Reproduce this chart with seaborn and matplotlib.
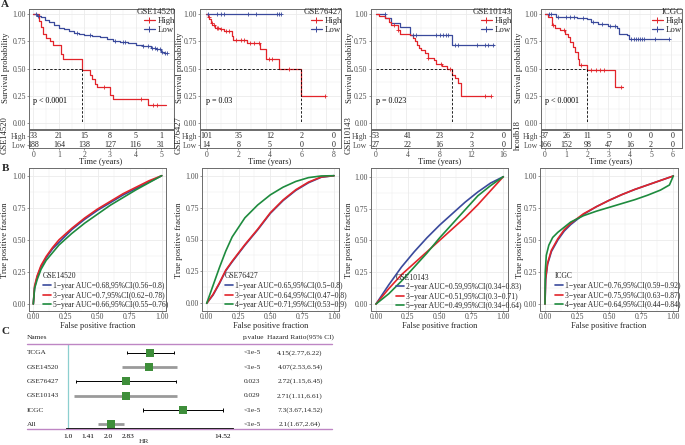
import matplotlib
matplotlib.use("Agg")
import numpy as np
import pandas as pd
import seaborn as sns
import matplotlib.pyplot as plt
from matplotlib.lines import Line2D

# ------------------------------------------------------------------ DATA
# Panel A : Kaplan-Meier step points
km1_name = "GSE14520"
km1_high_t = [0, 0.24, 0.30, 0.38, 0.50, 0.65, 0.78, 1.10, 1.18, 1.90, 2.20, 2.30, 2.40, 2.50, 3.00, 3.10, 4.50, 5.20]
km1_high_s = [1.00, 0.94, 0.88, 0.82, 0.78, 0.75, 0.72, 0.63, 0.59, 0.49, 0.44, 0.40, 0.36, 0.33, 0.26, 0.22, 0.17, 0.17]
km1_high_c = [2.75, 4.20, 4.70, 4.85]
km1_low_t = [0, 0.15, 0.30, 0.45, 0.60, 0.80, 1.00, 1.20, 1.40, 1.60, 1.80, 2.00, 2.30, 2.60, 2.90, 3.10,
             3.40, 3.70, 4.00, 4.30, 4.60, 4.80, 5.00, 5.10, 5.25]
km1_low_s = [1.00, 0.985, 0.97, 0.945, 0.925, 0.90, 0.875, 0.86, 0.845, 0.83, 0.815, 0.805, 0.795, 0.785, 0.77,
             0.755, 0.745, 0.735, 0.715, 0.705, 0.69, 0.675, 0.655, 0.645, 0.64]
km1_low_c = [0.1, 0.2, 1.7, 2.2, 3.2, 3.5, 3.6, 4.3, 4.5, 4.65, 4.75, 4.85, 4.95, 5.05, 5.15, 5.22]
km1_risk_t = [0, 1, 2, 3, 4, 5]
km1_risk_high = [33, 21, 15, 8, 5, 1]
km1_risk_low = [188, 164, 138, 127, 116, 31]
km1_p = "p < 0.0001"
km1_strata = "GSE14520"

km2_name = "GSE76427"
km2_high_t = [0, 0.10, 0.20, 0.30, 0.40, 0.60, 0.90, 1.20, 1.70, 1.80, 2.70, 3.60, 4.00, 4.85, 6.30, 7.90]
km2_high_s = [1.00, 0.97, 0.95, 0.92, 0.90, 0.87, 0.86, 0.84, 0.80, 0.76, 0.73, 0.68, 0.59, 0.50, 0.25, 0.25]
km2_high_c = [0.15, 0.35, 0.5, 0.7, 0.8, 1.0, 1.3, 1.5, 2.0, 2.3, 2.5, 2.9, 3.2, 3.5, 4.2, 4.4, 5.5, 7.9]
km2_low_t = [0, 5.0]
km2_low_s = [1.0, 1.0]
km2_low_c = [0.1, 0.7, 1.0, 1.2, 2.8, 3.3, 4.7, 4.85, 5.0]
km2_risk_t = [0, 2, 4, 6, 8]
km2_risk_high = [101, 35, 12, 2, 0]
km2_risk_low = [14, 8, 5, 0, 0]
km2_p = "p = 0.03"
km2_strata = "GSE76427"

km3_name = "GSE10143"
km3_high_t = [0, 0.5, 1.3, 1.8, 2.1, 3.0, 3.2, 4.5, 4.9, 5.2, 5.5, 5.8, 6.0, 6.5, 6.9, 7.8, 8.0, 8.8, 9.5,
              10.2, 10.6, 11.0, 11.4, 15.3]
km3_high_s = [1.0, 0.98, 0.96, 0.93, 0.90, 0.85, 0.82, 0.81, 0.78, 0.75, 0.72, 0.69, 0.67, 0.64, 0.60, 0.58,
              0.54, 0.52, 0.50, 0.44, 0.41, 0.37, 0.25, 0.25]
km3_high_c = [2.5, 3.0, 7.0, 8.7, 9.9, 14.5, 15.3]
km3_low_t = [0, 1.3, 2.0, 3.2, 4.5, 10.2, 15.7]
km3_low_s = [1.0, 0.96, 0.92, 0.88, 0.81, 0.72, 0.72]
km3_low_c = [1.2, 5.0, 5.3, 8.0, 8.5, 9.0, 9.3, 9.6, 10.6, 11.0, 13.5, 14.5, 15.0, 15.6]
km3_risk_t = [0, 4, 8, 12, 16]
km3_risk_high = [53, 41, 23, 2, 0]
km3_risk_low = [27, 22, 16, 3, 0]
km3_p = "p = 0.023"
km3_strata = "GSE10143"

km4_name = "ICGC"
km4_high_t = [0, 0.16, 0.31, 0.47, 0.71, 0.94, 1.10, 1.18, 1.34, 1.42, 1.57, 1.60, 1.97, 3.30, 3.70]
km4_high_s = [1.00, 0.97, 0.90, 0.87, 0.85, 0.82, 0.79, 0.74, 0.70, 0.65, 0.59, 0.53, 0.49, 0.33, 0.33]
km4_high_c = [0.4, 0.9, 1.7, 2.2, 2.4, 2.6, 2.8, 3.6]
km4_low_t = [0, 0.5, 1.5, 2.0, 2.2, 2.5, 3.0, 3.4, 3.5, 3.9, 4.0, 5.9]
km4_low_s = [1.00, 0.97, 0.96, 0.95, 0.93, 0.91, 0.89, 0.87, 0.82, 0.81, 0.77, 0.77]
km4_low_c = [0.2, 0.3, 0.6, 1.0, 1.2, 1.4, 1.8, 2.3, 2.7, 3.1, 3.3, 4.1, 4.2, 4.3, 4.4, 4.5, 4.6, 4.7, 5.2, 5.9]
km4_risk_t = [0, 1, 2, 3, 4, 5, 6]
km4_risk_high = [37, 26, 11, 5, 0, 0, 0]
km4_risk_low = [166, 152, 98, 47, 16, 2, 0]
km4_p = "p < 0.0001"
km4_strata = "hcodb18"

# Panel B : time-dependent ROC curves
roc1_name = "GSE14520"
roc1_fpr = [0, 0.01, 0.03, 0.06, 0.10, 0.15, 0.20, 0.30, 0.40, 0.50, 0.60, 0.70, 0.80, 0.90, 1.00]
roc1_tpr_a = [0, 0.13, 0.21, 0.29, 0.36, 0.43, 0.48, 0.58, 0.66, 0.73, 0.79, 0.85, 0.90, 0.95, 1.00]
roc1_tpr_b = [0, 0.14, 0.22, 0.30, 0.37, 0.44, 0.50, 0.59, 0.67, 0.74, 0.80, 0.86, 0.91, 0.96, 1.00]
roc1_tpr_c = [0, 0.12, 0.19, 0.27, 0.34, 0.40, 0.46, 0.55, 0.63, 0.70, 0.77, 0.83, 0.89, 0.945, 1.00]
roc1_labels = ["1\u2212year AUC=0.68,95%CI(0.56\u22120.8)",
               "3\u2212year AUC=0.7,95%CI(0.62\u22120.78)",
               "5\u2212year AUC=0.66,95%CI(0.55\u22120.76)"]

roc2_name = "GSE76427"
roc2_fpr = [0, 0.05, 0.10, 0.15, 0.20, 0.30, 0.40, 0.50, 0.60, 0.70, 0.80, 0.90, 1.00]
roc2_tpr_a = [0, 0.065, 0.155, 0.255, 0.325, 0.455, 0.575, 0.705, 0.805, 0.885, 0.945, 0.988, 1.00]
roc2_tpr_b = [0, 0.07, 0.16, 0.26, 0.33, 0.46, 0.58, 0.71, 0.81, 0.89, 0.95, 0.99, 1.00]
roc2_tpr_c = [0, 0.14, 0.28, 0.41, 0.52, 0.67, 0.77, 0.85, 0.91, 0.955, 0.985, 0.998, 1.00]
roc2_labels = ["1\u2212year AUC=0.65,95%CI(0.5\u22120.8)",
               "3\u2212year AUC=0.64,95%CI(0.47\u22120.8)",
               "4\u2212year AUC=0.71,95%CI(0.53\u22120.9)"]

roc3_name = "GSE10143"
roc3_fpr = [0, 0.10, 0.20, 0.30, 0.40, 0.50, 0.60, 0.70, 0.80, 0.90, 1.00]
roc3_tpr_a = [0, 0.15, 0.29, 0.41, 0.52, 0.62, 0.71, 0.80, 0.88, 0.95, 1.00]
roc3_tpr_b = [0, 0.12, 0.23, 0.32, 0.41, 0.50, 0.59, 0.68, 0.78, 0.89, 1.00]
roc3_tpr_c = [0, 0.08, 0.18, 0.29, 0.40, 0.52, 0.63, 0.74, 0.85, 0.93, 1.00]
roc3_labels = ["2\u2212year AUC=0.59,95%CI(0.34\u22120.83)",
               "3\u2212year AUC=0.51,95%CI(0.3\u22120.71)",
               "5\u2212year AUC=0.49,95%CI(0.34\u22120.64)"]

roc4_name = "ICGC"
roc4_fpr_ab = [0, 0.005, 0.02, 0.05, 0.10, 0.15, 0.20, 0.30, 0.40, 0.50, 0.60, 0.70, 0.80, 0.90, 1.00]
roc4_tpr_a = [0, 0.19, 0.31, 0.41, 0.50, 0.57, 0.62, 0.70, 0.76, 0.81, 0.855, 0.895, 0.93, 0.965, 1.00]
roc4_tpr_b = [0, 0.20, 0.32, 0.42, 0.51, 0.58, 0.63, 0.705, 0.76, 0.81, 0.855, 0.895, 0.93, 0.965, 1.00]
roc4_fpr_c = [0, 0.002, 0.01, 0.03, 0.06, 0.10, 0.15, 0.20, 0.30, 0.40, 0.50, 0.60, 0.70, 0.80, 0.90, 0.97, 1.00]
roc4_tpr_c = [0, 0.25, 0.38, 0.46, 0.52, 0.56, 0.60, 0.64, 0.69, 0.725, 0.755, 0.785, 0.815, 0.85, 0.89, 0.93, 1.00]
roc4_labels = ["1\u2212year AUC=0.76,95%CI(0.59\u22120.92)",
               "3\u2212year AUC=0.75,95%CI(0.63\u22120.87)",
               "4\u2212year AUC=0.64,95%CI(0.44\u22120.84)"]

# Panel C : forest plot
fp_names = ["TCGA", "GSE14520", "GSE76427", "GSE10143", "ICGC", "All"]
fp_hr = [4.15, 4.07, 2.72, 2.71, 7.3, 2.1]
fp_lo = [2.77, 2.53, 1.15, 1.11, 3.67, 1.67]
fp_hi = [6.22, 6.54, 6.45, 6.61, 14.52, 2.64]
fp_p = ["<1e-5", "<1e-5", "0.023", "0.029", "<1e-5", "<1e-5"]
fp_ticks = [1.0, 1.41, 2.0, 2.83, 14.52]
fp_ticklabels = ["1.0", "1.41", "2.0", "2.83", "14.52"]

# ------------------------------------------------------------------ STYLE
sns.set_theme(style="white")
plt.rcParams["font.family"] = ["Liberation Serif", "DejaVu Serif"]

RED = "#E2242A"
BLUE = "#3A4A9C"
GREEN = "#1E8B3E"
GRID = "#EBEBEB"
BORDER = "#6B6B6B"
TICKC = "#4D4D4D"
PURPLE = "#BE86C4"
TEAL = "#8CCFCF"

W, H = 685, 445
fig = plt.figure(figsize=(W / 100, H / 100), dpi=100)


def add_ax(l, t, r, b):
    return fig.add_axes([l / W, 1 - b / H, (r - l) / W, (b - t) / H])


def ftext(x, y, s, **kw):
    fig.text(x / W, 1 - y / H, s, **kw)


def lim_px(a, b, p0, p1, v0, v1):
    k = (v1 - v0) / (p1 - p0)
    return v0 + (a - p0) * k, v0 + (b - p0) * k


def style(ax, xt, yt, xm, ym, grid=True, xpad=0.8):
    ax.set_xticks(xt)
    ax.set_yticks(yt)
    ax.set_xticks(xm, minor=True)
    ax.set_yticks(ym, minor=True)
    if grid:
        ax.grid(True, which="major", color=GRID, lw=0.6)
        ax.grid(True, which="minor", color=GRID, lw=0.35)
    ax.set_axisbelow(True)
    for sp in ax.spines.values():
        sp.set_visible(True)
        sp.set_color(BORDER)
        sp.set_linewidth(0.7)
    ax.tick_params(which="major", bottom=True, left=True, length=1.5, width=0.5,
                   color=BORDER, labelsize=5.6, labelcolor=TICKC, pad=0.8)
    ax.tick_params(axis="x", which="major", pad=xpad)
    ax.tick_params(which="minor", length=0)
    ax.set_xlabel("")
    ax.set_ylabel("")


def step_at(t, s, c):
    idx = np.searchsorted(np.asarray(t), c, side="right") - 1
    return np.asarray(s)[idx]


# ------------------------------------------------------------------ PANEL A
km_specs = [
    (km1_name, km1_high_t, km1_high_s, km1_high_c, km1_low_t, km1_low_s, km1_low_c,
     km1_risk_t, km1_risk_high, km1_risk_low, km1_p, km1_strata, (29, 174, 33.3, 25.55), 6, 5),
    (km2_name, km2_high_t, km2_high_s, km2_high_c, km2_low_t, km2_low_s, km2_low_c,
     km2_risk_t, km2_risk_high, km2_risk_low, km2_p, km2_strata, (200, 341, 206.7, 15.83), 180, 178.3),
    (km3_name, km3_high_t, km3_high_s, km3_high_c, km3_low_t, km3_low_s, km3_low_c,
     km3_risk_t, km3_risk_high, km3_risk_low, km3_p, km3_strata, (370.7, 511, 376, 7.96), 349.5, 348.3),
    (km4_name, km4_high_t, km4_high_s, km4_high_c, km4_low_t, km4_low_s, km4_low_c,
     km4_risk_t, km4_risk_high, km4_risk_low, km4_p, km4_strata, (541, 682, 545, 21.22), 519, 518),
]

for (name, ht, hs, hc, lt, ls, lc, rt, rh, rl, ptxt, strata, px, ylx, rlx) in km_specs:
    l, r, x0, ppu = px
    xlim = ((l - x0) / ppu, (r - x0) / ppu)
    main = add_ax(l, 8.5, r, 128.5)
    for t, s, c, col in [(lt, ls, lc, BLUE), (ht, hs, hc, RED)]:
        df = pd.DataFrame({"time": t, "surv": s})
        sns.lineplot(data=df, x="time", y="surv", drawstyle="steps-post", color=col, lw=0.9,
                     estimator=None, sort=False, ax=main)
        cdf = pd.DataFrame({"time": c, "surv": step_at(t, s, c)})
        sns.scatterplot(data=cdf, x="time", y="surv", marker="+", color=col, s=10,
                        linewidth=0.6, ax=main, zorder=3)
    hs_arr = np.asarray(hs)
    med = np.asarray(ht)[np.argmax(hs_arr < 0.5)]
    main.plot([0, med], [0.5, 0.5], ls=(0, (3, 2)), color="black", lw=0.6)
    main.plot([med, med], [0.5, 0], ls=(0, (3, 2)), color="black", lw=0.6)
    main.text(0.0, 0.2, ptxt, fontsize=5.8, ha="left", va="center", color="black")
    main.set_xlim(*xlim)
    main.set_ylim(-0.05, 1.05)
    step = rt[1] - rt[0]
    style(main, rt, [0, 0.25, 0.5, 0.75, 1.0],
          [v + step / 2 for v in rt], [0.125, 0.375, 0.625, 0.875])
    main.set_xticklabels([])
    main.set_yticklabels(["0.00", "0.25", "0.50", "0.75", "1.00"])
    handles = [Line2D([], [], color=RED, marker="+", lw=0.9, ms=4, mew=0.7),
               Line2D([], [], color=BLUE, marker="+", lw=0.9, ms=4, mew=0.7)]
    main.legend(handles, ["High", "Low"], title=name, loc="upper right",
                bbox_to_anchor=((r + 1) / W, 1 - 8.5 / H), bbox_transform=fig.transFigure,
                frameon=False, fontsize=6.3, title_fontsize=6.3, handlelength=1.3,
                handletextpad=0.3, labelspacing=0.05, borderpad=0, borderaxespad=0,
                alignment="right")
    ftext(ylx, 68, "Survival probability", rotation=90, ha="center", va="center", fontsize=6.2)

    risk = add_ax(l, 130, r, 148)
    risk.set_xlim(*xlim)
    risk.set_ylim(1.29, -0.645)
    style(risk, rt, [0, 1], [], [], grid=False)
    risk.set_yticklabels(["High", "Low"])
    risk.set_xticklabels([str(v) for v in rt])
    for tv, a, b in zip(rt, rh, rl):
        risk.text(tv, 0, str(a), ha="center", va="center", fontsize=5.8)
        risk.text(tv, 1, str(b), ha="center", va="center", fontsize=5.8)
    ftext((l + r) / 2 - 1, 162.5, "Time (years)", ha="center", va="center", fontsize=6.1)
    ftext(rlx, 135, strata, rotation=90, ha="center", va="center", fontsize=6.2)

# ------------------------------------------------------------------ PANEL B
roc_specs = [
    (roc1_name, [(roc1_fpr, roc1_tpr_a, BLUE), (roc1_fpr, roc1_tpr_b, RED), (roc1_fpr, roc1_tpr_c, GREEN)],
     roc1_labels, (29, 166, 33.3, 161.7, 304, 175.7), 5, (43, 272.5)),
    (roc2_name, [(roc2_fpr, roc2_tpr_a, BLUE), (roc2_fpr, roc2_tpr_b, RED), (roc2_fpr, roc2_tpr_c, GREEN)],
     roc2_labels, (202, 338.5, 206.7, 334, 303.3, 175.7), 179.3, (225, 272.5)),
    (roc3_name, [(roc3_fpr, roc3_tpr_a, BLUE), (roc3_fpr, roc3_tpr_b, RED), (roc3_fpr, roc3_tpr_c, GREEN)],
     roc3_labels, (371, 508, 376, 503.3, 304, 176.7), 349.3, (396, 273.5)),
    (roc4_name, [(roc4_fpr_ab, roc4_tpr_a, BLUE), (roc4_fpr_ab, roc4_tpr_b, RED), (roc4_fpr_c, roc4_tpr_c, GREEN)],
     roc4_labels, (540, 678, 545, 673.3, 304, 176), 520, (555, 272.5)),
]

for name, curves, labels, px, ylx, legpos in roc_specs:
    l, r, x0, x1, y0, y1 = px
    ax = add_ax(l, 168, r, 310.5)
    for fpr, tpr, col in curves:
        sns.lineplot(x=fpr, y=tpr, color=col, lw=1.2, estimator=None, sort=False, ax=ax)
    ax.set_xlim(*lim_px(l, r, x0, x1, 0, 1))
    ax.set_ylim(*lim_px(310.5, 168, y0, y1, 0, 1))
    ticks = [0, 0.25, 0.5, 0.75, 1.0]
    style(ax, ticks, ticks, [0.125, 0.375, 0.625, 0.875], [0.125, 0.375, 0.625, 0.875], xpad=0.2)
    tl = ["0.00", "0.25", "0.50", "0.75", "1.00"]
    ax.set_xticklabels(tl)
    ax.set_yticklabels(tl)
    handles = [Line2D([], [], color=c, lw=1.2) for _, _, c in curves]
    ax.legend(handles, labels, title=name, loc="upper left",
              bbox_to_anchor=(legpos[0] / W, 1 - legpos[1] / H), bbox_transform=fig.transFigure,
              frameon=False, fontsize=5.5, title_fontsize=5.5, handlelength=1.1,
              handletextpad=0.25, labelspacing=0.2, borderpad=0, borderaxespad=0,
              alignment="left")
    ftext(ylx, 240, "True positive fraction", rotation=90, ha="center", va="center", fontsize=6.2)
    ftext((l + r) / 2, 325.5, "False positive fraction", ha="center", va="center", fontsize=6.0)

# ------------------------------------------------------------------ PANEL C
fax = add_ax(66, 344.3, 233, 428)
fax.set_xscale("log")
fax.set_xlim(0.968, 17.3)
fax.set_ylim(5.25, -0.585)
rows = list(range(len(fp_names)))
for i, (lo, hi) in enumerate(zip(fp_lo, fp_hi)):
    if i % 2 == 0:
        fax.hlines(i, lo, hi, color="black", lw=0.7, zorder=2)
        fax.vlines([lo, hi], i - 0.12, i + 0.12, color="black", lw=0.7, zorder=2)
    else:
        fax.hlines(i, lo, hi, color="#9A9A9A", lw=2.0, zorder=2)
fax.axvline(1.0, color=TEAL, lw=0.9, zorder=1)
fdf = pd.DataFrame({"hr": fp_hr, "row": rows})
sns.scatterplot(data=fdf, x="hr", y="row", marker="s", color="#3E8E3A", s=28,
                edgecolor="#3E8E3A", linewidth=0, ax=fax, zorder=3)
for sp in ["left", "right", "top"]:
    fax.spines[sp].set_visible(False)
fax.spines["bottom"].set_color("black")
fax.spines["bottom"].set_linewidth(0.6)
fax.spines["bottom"].set_zorder(5)
fax.set_yticks([])
fax.set_xticks(fp_ticks)
fax.set_xticklabels(fp_ticklabels)
fax.xaxis.set_minor_locator(matplotlib.ticker.NullLocator())
fax.tick_params(axis="x", bottom=True, length=0, labelsize=5.3, pad=4.5, labelcolor="black")
fax.set_xlabel("")
fax.set_ylabel("")
fax.patch.set_alpha(0)

# purple rules
fig.add_artist(Line2D([27 / W, 332 / W], [1 - 344.3 / H, 1 - 344.3 / H], color=PURPLE, lw=1.0))
fig.add_artist(Line2D([27 / W, 332 / W], [1 - 428.5 / H, 1 - 428.5 / H], color=PURPLE, lw=1.0, zorder=0))

ftext(27, 337.5, "Names", ha="left", va="center", fontsize=5.3)
ftext(243, 337.5, "p.value", ha="left", va="center", fontsize=5.3)
ftext(300, 337.5, "Hazard Ratio(95% CI)", ha="center", va="center", fontsize=5.3)
for i, nm in enumerate(fp_names):
    y = 352.7 + 14.35 * i
    ftext(27, y, nm, ha="left", va="center", fontsize=5.3)
    ftext(244, y, fp_p[i], ha="left", va="center", fontsize=5.3)
    ftext(300, y, f"{fp_hr[i]}({fp_lo[i]},{fp_hi[i]})", ha="center", va="center", fontsize=5.3)
ftext(144, 441.5, "HR", ha="center", va="center", fontsize=5.3)

# panel letters
ftext(5, 4.5, "A", ha="center", va="center", fontsize=8, fontweight="bold")
ftext(5, 168, "B", ha="center", va="center", fontsize=8, fontweight="bold")
ftext(5, 331, "C", ha="center", va="center", fontsize=8, fontweight="bold")

fig.savefig("out.png", dpi=100)
